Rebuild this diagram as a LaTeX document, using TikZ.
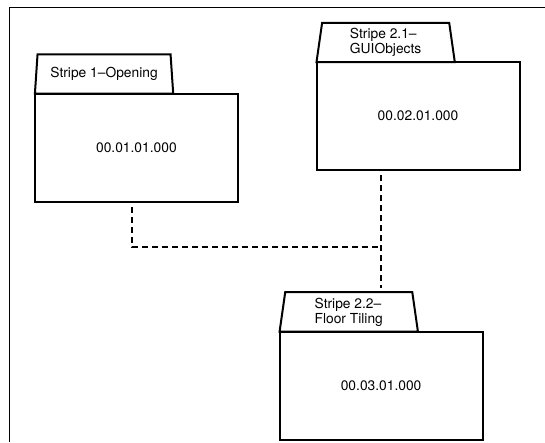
\documentclass[tikz,border=0pt]{standalone}
\usepackage{fontspec}
\setmainfont{TeX Gyre Heros}
\usetikzlibrary{shapes.geometric}

\begin{document}
\begin{tikzpicture}[x=1pt, y=1pt,
    body/.style={draw, line width=2pt, minimum width=203pt, minimum height=108pt,
        inner sep=0pt, outer sep=0pt, font=\fontsize{13.8}{15}\selectfont},
    tab/.style={draw, line width=2pt, trapezium, trapezium left angle=78.8,
        trapezium right angle=78.8, trapezium stretches body=true,
        minimum width=138.3pt, minimum height=39.3pt, inner sep=0pt, outer sep=0pt,
        align=left, font=\fontsize{13.8}{15}\selectfont, anchor=bottom left corner},
    link/.style={line width=2pt, dash pattern=on 6pt off 4pt}]

    \useasboundingbox (0,0) rectangle (545,442);

    % Frame
    \draw[line width=1.3pt] (9.4,0) -- (9.4,434.4) -- (545,434.4);

    % Stripe bodies
    \node[body] (b1) at (136.4,294.3) {00.01.01.000};
    \node[body] (b2) at (418,325.9) {00.02.01.000};
    \node[body] (b3) at (381.1,56.5) {00.03.01.000};

    % Tabs on top of the bodies
    \node[tab] (t1) at (b1.north west) {Stripe 1--Opening};
    \node[tab] (t2) at (b2.north west) {Stripe 2.1--\\GUIObjects};
    \node[tab] (t3) at (b3.north west) {Stripe 2.2--\\Floor Tiling};

    % Dashed links
    \path ([yshift=-45.4pt]b1.south) coordinate (corner);
    \coordinate (tee) at (corner -| b3.north);
    \draw[link] ([xshift=-4pt,yshift=-5.4pt]b1.south) |- (tee);
    \draw[link] ([yshift=-5pt]b2.south -| b3.north) -- ([yshift=4.5pt]t3.north -| b3.north);

\end{tikzpicture}
\end{document}
